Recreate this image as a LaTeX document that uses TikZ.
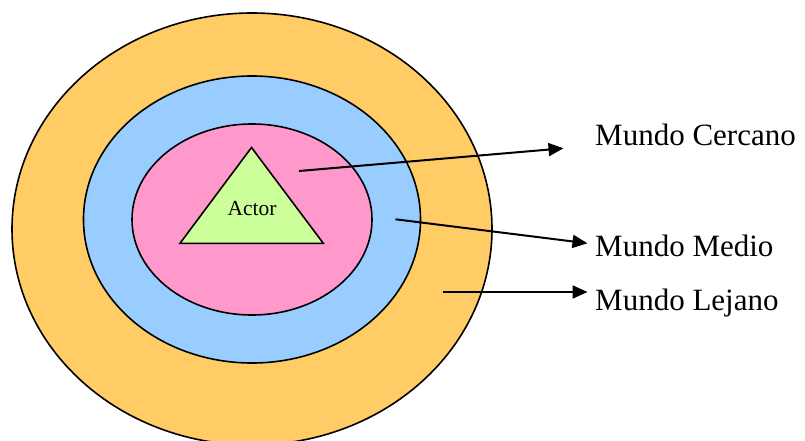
\documentclass[tikz,border=0pt]{standalone}
\usepackage{fontspec}
\setmainfont{Liberation Serif}
\usetikzlibrary{shapes.geometric,arrows.meta}

\definecolor{farworld}{HTML}{FFCC66}
\definecolor{midworld}{HTML}{99CCFF}
\definecolor{nearworld}{HTML}{FF99CC}
\definecolor{actorfill}{HTML}{CCFF99}

\tikzset{
  world/.style={ellipse, draw=black, line width=1.6pt, inner sep=0pt},
  label/.style={anchor=base west, inner sep=0pt,
    font=\fontsize{31pt}{37pt}\selectfont},
  pointer/.style={line width=2pt, -{Triangle[length=15pt, width=13pt]}}
}

\begin{document}
\begin{tikzpicture}[x=1pt, y=-1pt]
  \useasboundingbox (0,0) rectangle (805,441);

  % concentric worlds
  \node[world, fill=farworld, minimum width=480pt, minimum height=432pt]
    (far) at (252,229) {};
  \node[world, fill=midworld, minimum width=337pt, minimum height=287pt]
    (mid) at (252,219.5) {};
  \node[world, fill=nearworld, minimum width=240pt, minimum height=191pt]
    (near) at (252,219.5) {};

  % actor triangle
  \draw[fill=actorfill, line width=1.6pt, line join=miter]
    (251.5,147.5) -- (180,243.3) -- (323.3,243.3) -- cycle;
  \node[anchor=base, inner sep=0pt, font=\fontsize{21.5pt}{25pt}\selectfont]
    (actor) at (252,215) {Actor};

  % labels
  \node[label] (cercano) at (595,145) {Mundo Cercano};
  \node[label] (medio)   at (595,256) {Mundo Medio};
  \node[label] (lejano)  at (595,310) {Mundo Lejano};

  % pointer ends
  \coordinate (pc) at (299,171);
  \coordinate (tc) at (563.5,148.3);
  \coordinate (pm) at (395.5,219.3);
  \coordinate (tm) at (587.5,243.3);
  \coordinate (pl) at (443,292);
  \coordinate (tl) at (587.5,292);

  \draw[pointer] (pc) -- (tc);
  \draw[pointer] (pm) -- (tm);
  \draw[pointer] (pl) -- (tl);
\end{tikzpicture}
\end{document}
